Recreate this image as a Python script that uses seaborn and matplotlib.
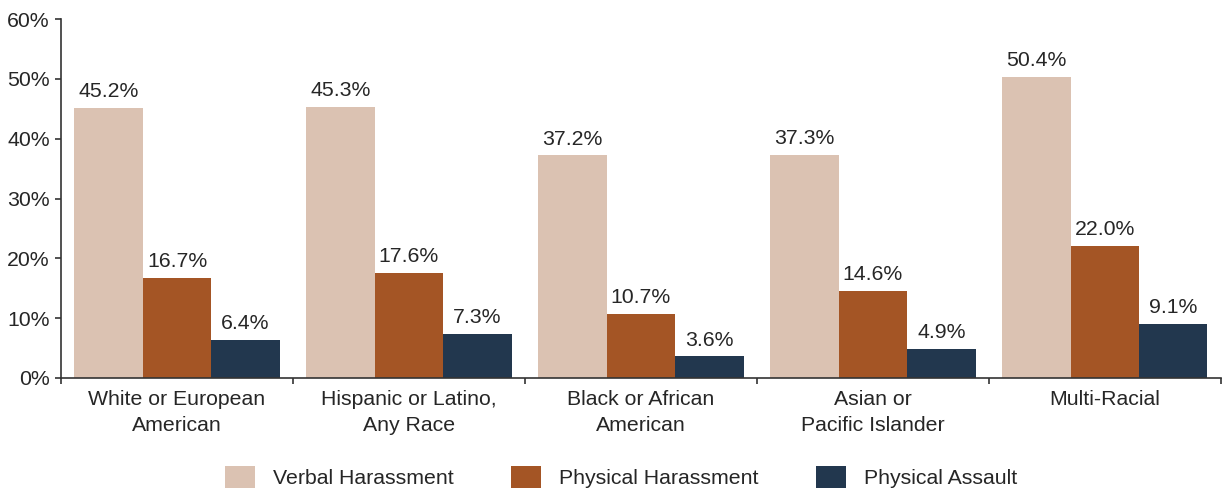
import pandas as pd
import matplotlib.pyplot as plt
import seaborn as sns
from matplotlib.ticker import FixedLocator, PercentFormatter
from matplotlib.patches import Patch

# Data
groups = ['White or European\nAmerican', 'Hispanic or Latino,\nAny Race',
          'Black or African\nAmerican', 'Asian or\nPacific Islander', 'Multi-Racial']
series = ['Verbal Harassment', 'Physical Harassment', 'Physical Assault']
verbal = [45.2, 45.3, 37.2, 37.3, 50.4]
physical_harassment = [16.7, 17.6, 10.7, 14.6, 22.0]
physical_assault = [6.4, 7.3, 3.6, 4.9, 9.1]
colors = ['#DBC2B2', '#A45525', '#22374E']

TEXT = '#262626'
FS = 15.3

df = pd.DataFrame({'group': groups * 3,
                   'series': [s for s in series for _ in groups],
                   'value': verbal + physical_harassment + physical_assault})

sns.set_style('white')
plt.rcParams['font.family'] = ['Liberation Sans', 'DejaVu Sans']

fig = plt.figure(figsize=(12.23, 4.9), dpi=100)
ax = fig.add_axes([0.0499, 0.2286, 0.9483, 0.7324])

sns.barplot(data=df, x='group', y='value', hue='series', palette=colors,
            width=0.885, saturation=1, linewidth=0, ax=ax, legend=False)

for cont in ax.containers:
    ax.bar_label(cont, labels=[f'{v:.1f}%' for v in cont.datavalues],
                 padding=5, fontsize=FS, color=TEXT)

ax.set_xlim(-0.5, len(groups) - 0.5)
ax.set_ylim(0, 60)
ax.yaxis.set_major_locator(FixedLocator([0, 10, 20, 30, 40, 50, 60]))
ax.yaxis.set_major_formatter(PercentFormatter(decimals=0))
ax.set_xlabel('')
ax.set_ylabel('')

ax.xaxis.set_minor_locator(FixedLocator([i - 0.5 for i in range(len(groups) + 1)]))
ax.tick_params(axis='x', which='major', length=0, pad=9, labelsize=FS, labelcolor=TEXT)
ax.tick_params(axis='x', which='minor', bottom=True, length=4.3, width=1.2,
               color='#333333', direction='out')
ax.tick_params(axis='y', left=True, length=4.5, width=1.2, color='#333333', direction='out',
               labelsize=FS, labelcolor=TEXT, pad=3.5)
for lbl in ax.get_xticklabels():
    lbl.set_linespacing(1.45)

sns.despine(ax=ax)
for s in ['left', 'bottom']:
    ax.spines[s].set_color('#333333')
    ax.spines[s].set_linewidth(1.2)

handles = [Patch(facecolor=c, edgecolor='none') for c in colors]
fig.legend(handles, series, loc='center', bbox_to_anchor=(0.508, 0.027), ncol=3,
           frameon=False, fontsize=FS, labelcolor=TEXT,
           handlelength=1.4, handleheight=1.25, handletextpad=0.85, columnspacing=2.7)

fig.savefig('out.png', dpi=100)
